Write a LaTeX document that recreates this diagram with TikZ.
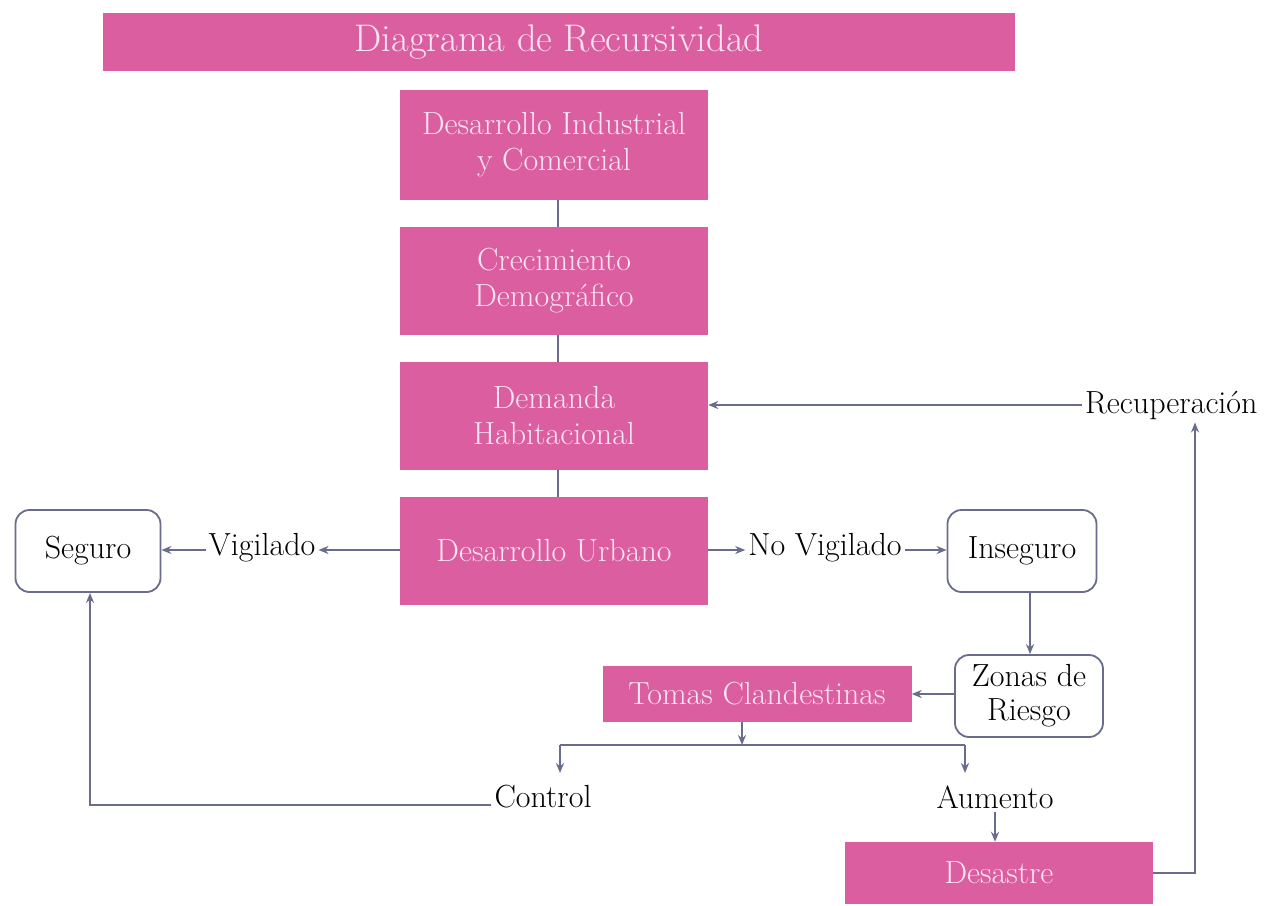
\documentclass[tikz,border=0pt]{standalone}
\usetikzlibrary{arrows.meta}
\definecolor{pinkfill}{RGB}{218,94,160}
\definecolor{pinktext}{RGB}{252,228,242}
\definecolor{linec}{RGB}{105,108,140}
\tikzset{
  pinkbox/.style={rectangle, fill=pinkfill, text=pinktext, inner sep=0pt, align=center,
    font=\fontsize{32}{36}\selectfont},
  roundbox/.style={rectangle, rounded corners=14pt, draw=linec, line width=1.8pt, fill=white,
    inner sep=0pt, align=center, font=\fontsize{32}{36}\selectfont},
  lbl/.style={inner sep=3pt, align=center, font=\fontsize{32}{36}\selectfont},
  conn/.style={draw=linec, line width=1.8pt},
  arr/.style={conn, -{Stealth[length=10pt,width=8pt]}},
}
\begin{document}
\begin{tikzpicture}[x=1pt,y=-1pt]
\useasboundingbox (0,0) rectangle (1268,905);
\fill[white] (0,0) rectangle (1268,905);
% main column
\node[pinkbox, minimum width=912, minimum height=58, font=\fontsize{38.5}{42}\selectfont] (title) at (559,42) {Diagrama de Recursividad};
\node[pinkbox, minimum width=308, minimum height=110] (b1) at (554,145) {Desarrollo Industrial\\y Comercial};
\node[pinkbox, minimum width=308, minimum height=108] (b2) at (554,281) {Crecimiento\\Demográfico};
\node[pinkbox, minimum width=308, minimum height=108] (b3) at (554,416) {Demanda\\Habitacional};
\node[pinkbox, minimum width=308, minimum height=108] (b4) at (554,551) {Desarrollo Urbano};
% side nodes
\node[roundbox, minimum width=145, minimum height=82] (seg) at (88,551) {Seguro};
\node[lbl] (vig) at (262,548) {Vigilado};
\node[lbl] (nov) at (825,548) {No Vigilado};
\node[roundbox, minimum width=149, minimum height=82] (ins) at (1022,551) {Inseguro};
\node[roundbox, minimum width=148, minimum height=82, font=\fontsize{32}{34}\selectfont] (zon) at (1029,696) {Zonas de\\Riesgo};
\node[pinkbox, minimum width=309, minimum height=56] (tom) at (757,694) {Tomas Clandestinas};
\node[lbl] (ctl) at (543,797) {Control};
\node[lbl] (aum) at (995,797) {Aumento};
\node[pinkbox, minimum width=308, minimum height=62] (des) at (999,873) {Desastre};
\node[lbl, anchor=west] (rec) at (1082,405) {Recuperación};
% coordinates
\coordinate (split) at (742,745);
\coordinate (jl) at (560,745);
\coordinate (jr) at (965,745);
\coordinate (cl) at (90,805);
\coordinate (dr) at (1195,873);
% connectors
\draw[conn] (b1.south -| 558,0) -- (b2.north -| 558,0);
\draw[conn] (b2.south -| 558,0) -- (b3.north -| 558,0);
\draw[conn] (b3.south -| 558,0) -- (b4.north -| 558,0);
\draw[arr] (b4.west |- 0,550) -- (vig.east |- 0,550);
\draw[arr] (vig.west |- 0,550) -- (seg.east |- 0,550);
\draw[arr] (b4.east |- 0,550) -- (nov.west |- 0,550);
\draw[arr] (nov.east |- 0,550) -- (ins.west |- 0,550);
\draw[arr] (ins.south -| 1030,0) -- (zon.north -| 1030,0);
\draw[arr] (zon.west |- 0,694) -- (tom.east |- 0,694);
\draw[arr] (tom.south -| split) -- (split);
\draw[conn] (jl) -- (jr);
\draw[arr] (jl) -- (jl |- 0,773);
\draw[arr] (jr) -- (jr |- 0,773);
\draw[arr] (ctl.west |- 0,805) -- (cl) -- (seg.south -| cl);
\draw[arr] (aum.south -| 995,0) -- (des.north -| 995,0);
\draw[arr] (des.east) -- (dr) -- (rec.south -| dr);
\draw[arr] (rec.west |- 0,405) -- (b3.east |- 0,405);
\end{tikzpicture}
\end{document}
